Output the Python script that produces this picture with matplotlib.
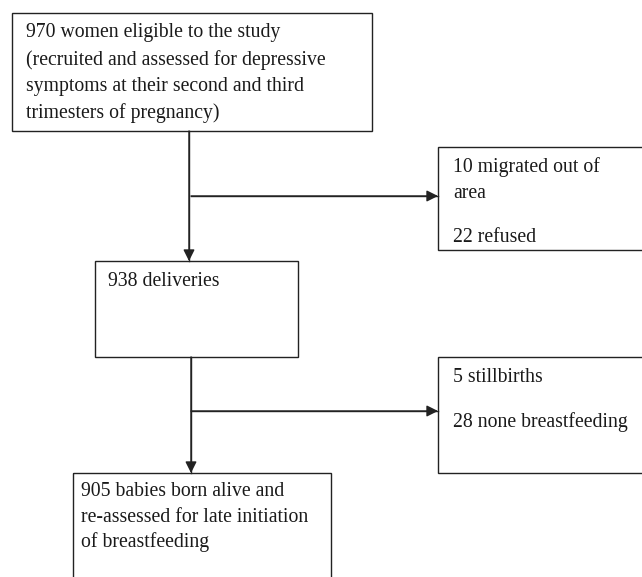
import matplotlib
matplotlib.use("Agg")
import matplotlib.pyplot as plt
from matplotlib.patches import Rectangle

# flowchart content
enrolled = ["970 women eligible to the study",
            "(recruited and assessed for depressive",
            "symptoms at their second and third",
            "trimesters of pregnancy)"]
lost_pregnancy = ["10 migrated out of", "area", "", "22 refused"]
deliveries = ["938 deliveries"]
lost_delivery = ["5 stillbirths", "28 none breastfeeding"]
final = ["905 babies born alive and",
         "re-assessed for late initiation",
         "of breastfeeding"]

W, H = 642, 577
fig = plt.figure(figsize=(W / 100, H / 100), dpi=100)
ax = fig.add_axes([0, 0, 1, 1])
ax.set_xlim(0, W)
ax.set_ylim(H, 0)
ax.axis("off")

font = dict(family="Liberation Serif", fontsize=14.2, color="#1a1a1a",
            va="center", ha="left")


def box(x0, y0, x1, y1):
    ax.add_patch(Rectangle((x0, y0), x1 - x0, y1 - y0, fill=False,
                           edgecolor="#222222", lw=1.0))


def lines(x, ys, texts):
    for y, t in zip(ys, texts):
        ax.text(x, y, t, **font)


def arrow(x0, y0, x1, y1):
    ax.plot([x0, x1], [y0, y1], color="#222222", lw=1.0)
    ax.annotate("", xy=(x1, y1), xytext=(x0, y0),
                arrowprops=dict(arrowstyle="-|>", mutation_scale=17,
                                color="#222222", lw=1.0,
                                shrinkA=0, shrinkB=0))


box(12, 13, 372, 131)
lines(26, [33, 60, 87, 113], enrolled)

box(438, 147, 643, 250)
lines(453, [167, 193, 219, 238], lost_pregnancy)

box(95, 261, 298, 357)
lines(108, [282], deliveries)

box(438, 357, 643, 473)
lines(453, [377, 422], lost_delivery)

box(73, 473, 331, 590)
lines(81, [492, 517, 542], final)

arrow(189, 131, 189, 261)
arrow(191, 196, 438, 196)
arrow(191, 357, 191, 473)
arrow(191, 411, 438, 411)

fig.savefig("out.png", dpi=100)
